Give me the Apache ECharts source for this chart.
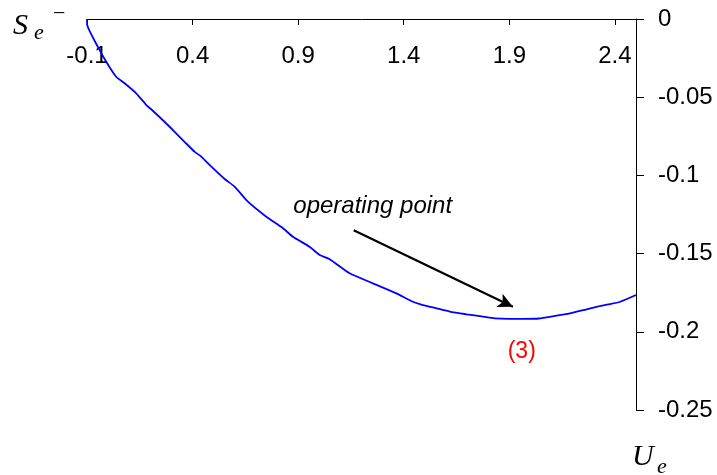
<!DOCTYPE html>
<html>
<head>
<meta charset="utf-8">
<script src="https://cdn.jsdelivr.net/npm/echarts@6/dist/echarts.min.js"></script>
<style>
  html, body { margin: 0; padding: 0; background: #fff; }
  #chart { width: 717px; height: 475px; }
</style>
</head>
<body>
<div id="chart"></div>
<script>
// Control input U_e and the resulting S_e^- value along the sweep
const ueValues = [-0.1, -0.099, -0.049, -0.009, 0.038, 0.078, 0.133, 0.181, 0.204, 0.267,
  0.315, 0.362, 0.409, 0.441, 0.489, 0.552, 0.599, 0.662, 0.749, 0.828,
  0.875, 0.954, 1.002, 1.049, 1.144, 1.254, 1.365, 1.444, 1.491, 1.555,
  1.618, 1.697, 1.776, 1.831, 1.90, 1.97, 2.04, 2.11, 2.187, 2.25,
  2.313, 2.37, 2.425, 2.5];
const seValues = [0, -0.0038, -0.0177, -0.0273, -0.0369, -0.0411, -0.0475, -0.0550, -0.0577, -0.0657,
  -0.0721, -0.0785, -0.0848, -0.0880, -0.0944, -0.1023, -0.1072, -0.1168, -0.1264, -0.1338,
  -0.1392, -0.1456, -0.1509, -0.1536, -0.1626, -0.1690, -0.1754, -0.1808, -0.1829, -0.1850,
  -0.1871, -0.1888, -0.1903, -0.1914, -0.1917, -0.1917, -0.1915, -0.1900, -0.1882, -0.1862,
  -0.1840, -0.1825, -0.1808, -0.1765];

// Axis ticks
const xTicks = [-0.1, 0.4, 0.9, 1.4, 1.9, 2.4];
const xRange = [-0.1, 2.5];
const yRange = [-0.25, 0];
const yStep = 0.05;

// Annotation: arrow pointing at the operating point, and its labels
const arrowFrom = [1.163, -0.135];
const arrowTo = [1.917, -0.184];
const noteText = 'operating point';
const notePos = [1.253, -0.120];
const pointTag = '(3)';
const tagPos = [1.959, -0.2125];

const curve = ueValues.map((u, i) => [u, seValues[i]]);

const sans = "'Liberation Sans', Arial, sans-serif";
const serif = "'Liberation Serif', 'Times New Roman', serif";

const chart = echarts.init(document.getElementById('chart'), null, { renderer: 'canvas' });

chart.setOption({
  backgroundColor: '#ffffff',
  animation: false,
  grid: { left: 87, right: 81, top: 19, bottom: 65 },
  xAxis: {
    type: 'value',
    position: 'top',
    min: xRange[0],
    max: xRange[1],
    axisLine: { onZero: false, lineStyle: { color: '#000', width: 1 } },
    axisTick: { inside: true, length: 6, customValues: xTicks, lineStyle: { color: '#000' } },
    axisLabel: {
      inside: true,
      margin: 25,
      customValues: xTicks,
      color: '#000',
      fontSize: 24,
      fontFamily: sans,
      formatter: v => String(Math.round(v * 10) / 10)
    },
    splitLine: { show: false }
  },
  yAxis: {
    type: 'value',
    position: 'right',
    min: yRange[0],
    max: yRange[1],
    interval: yStep,
    axisLine: { show: true, onZero: false, lineStyle: { color: '#000', width: 1 } },
    axisTick: { show: true, length: 8, lineStyle: { color: '#000' } },
    axisLabel: {
      margin: 22,
      color: '#000',
      fontSize: 24,
      fontFamily: sans,
      formatter: v => String(Math.round(v * 100) / 100)
    },
    splitLine: { show: false }
  },
  series: [{
    type: 'line',
    data: curve,
    showSymbol: false,
    smooth: 0.2,
    lineStyle: { color: '#0000ff', width: 1.8 },
    markLine: {
      silent: true,
      symbol: ['none', 'arrow'],
      symbolSize: [11, 15],
      label: { show: false },
      lineStyle: { color: '#000', width: 2.2, type: 'solid' },
      data: [[{ coord: arrowFrom }, { coord: arrowTo }]]
    },
    markPoint: {
      silent: true,
      symbol: 'circle',
      symbolSize: 0,
      data: [
        {
          coord: notePos,
          label: { show: true, position: 'inside', formatter: noteText, color: '#000',
            fontSize: 24, fontStyle: 'italic', fontFamily: sans }
        },
        {
          coord: tagPos,
          label: { show: true, position: 'inside', formatter: pointTag, color: '#ff0000',
            fontSize: 23, fontFamily: sans }
        }
      ]
    }
  }],
  graphic: [
    { type: 'text', left: 13, top: 11, style: { text: 'S', font: 'italic 30px ' + serif, fill: '#000' } },
    { type: 'text', left: 34, top: 22, style: { text: 'e', font: 'italic 22px ' + serif, fill: '#000' } },
    { type: 'text', left: 53, top: 3, style: { text: '\u2212', font: '22px ' + serif, fill: '#000' } },
    { type: 'text', left: 632, top: 442, style: { text: 'U', font: 'italic 30px ' + serif, fill: '#000' } },
    { type: 'text', left: 657, top: 456, style: { text: 'e', font: 'italic 22px ' + serif, fill: '#000' } }
  ]
});
</script>
</body>
</html>
